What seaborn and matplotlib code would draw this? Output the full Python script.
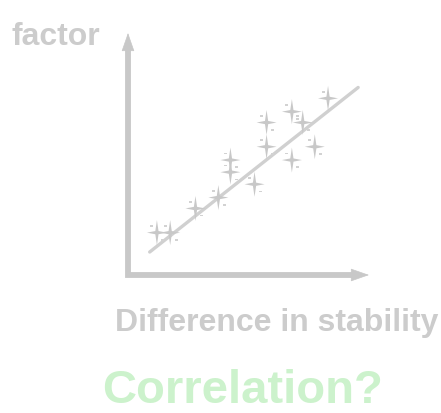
import numpy as np
import pandas as pd
import matplotlib
matplotlib.use("Agg")
import matplotlib.pyplot as plt
from matplotlib.path import Path
import seaborn as sns

# data (arbitrary units, axes run 0..10)
stability_diff = [1.2, 1.75, 2.8, 3.75, 4.25, 4.25, 5.25, 5.75, 5.75, 6.8, 6.8, 7.25, 7.75, 8.3]
factor = [1.75, 1.75, 2.75, 3.2, 4.75, 4.25, 3.75, 6.3, 5.3, 6.75, 4.75, 6.3, 5.3, 7.3]
trend_x = [0.9, 9.55]
trend_y = [0.95, 7.75]

x_label = "Difference in stability"
y_label = "factor"
title = "Correlation?"

grey = "#c8c8c8"
text_grey = "#cccccc"
green = "#ccf2cc"

df = pd.DataFrame({"x": stability_diff, "y": factor})
trend = pd.DataFrame({"x": trend_x, "y": trend_y})


def sparkle_path(k=0.16, tall=1.25):
    # four pointed star, side arms reach +-1, vertical arms a bit longer
    verts = [(0, tall), (k, k), (1, 0), (k, -k), (0, -tall), (-k, -k), (-1, 0), (-k, k), (0, tall)]
    codes = [Path.MOVETO] + [Path.LINETO] * 7 + [Path.CLOSEPOLY]
    return Path(verts, codes)


def dash_path():
    # two little dashes next to the star
    verts, codes = [], []
    for cx, cy in [(-0.5, 0.65), (0.6, -0.72)]:
        w, h = 0.15, 0.08
        verts += [(cx - w, cy - h), (cx + w, cy - h), (cx + w, cy + h), (cx - w, cy + h), (cx - w, cy - h)]
        codes += [Path.MOVETO, Path.LINETO, Path.LINETO, Path.LINETO, Path.CLOSEPOLY]
    return Path(verts, codes)


def marker_size(path, unit_pt=7.2):
    # scatter rescales a path so its largest |coord| is 0.5 of the marker size
    return (2 * unit_pt * np.max(np.abs(path.vertices))) ** 2


sns.set_style("white")
plt.rcParams["font.family"] = ["Liberation Sans", "DejaVu Sans"]

fig = plt.figure(figsize=(4.41, 4.13), dpi=100)
ax = fig.add_axes([128 / 441, 138 / 413, 241 / 441, 242 / 413])
ax.set_xlim(0, 10)
ax.set_ylim(0, 10)
ax.axis("off")

sp = sparkle_path()
dp = dash_path()
sns.lineplot(data=trend, x="x", y="y", ax=ax, color="#d0d0d0", lw=2.4, zorder=2)
sns.scatterplot(data=df, x="x", y="y", ax=ax, marker=sp, s=marker_size(sp),
                color=grey, edgecolor="none", linewidth=0, zorder=3)
sns.scatterplot(data=df, x="x", y="y", ax=ax, marker=dp, s=marker_size(dp),
                color="#d2d2d2", edgecolor="none", linewidth=0, zorder=3)

# axes drawn as arrows
ax.plot([0, 0, 0.93], [0.93, 0, 0], transform=ax.transAxes, color=grey, lw=4.2,
        solid_joinstyle="miter", solid_capstyle="butt", clip_on=False)
for tip, base in [((0.0, 1.0), (0.0, 0.9)), ((1.0, 0.0), (0.9, 0.0))]:
    ax.annotate("", xy=tip, xytext=base, xycoords="axes fraction",
                arrowprops=dict(arrowstyle="-|>,head_length=1.2,head_width=0.42",
                                mutation_scale=10, color=grey, lw=0.5,
                                shrinkA=0, shrinkB=0))

fig.text(12 / 441, 1 - 45 / 413, y_label, fontsize=23, fontweight="bold",
         color=text_grey, ha="left", va="baseline")
fig.text(115 / 441, 1 - 331 / 413, x_label, fontsize=23, fontweight="bold",
         color=text_grey, ha="left", va="baseline")
fig.text(102 / 441, 1 - 403 / 413, title, fontsize=34, fontweight="bold",
         color=green, ha="left", va="baseline")

fig.savefig("out.png", dpi=100)
